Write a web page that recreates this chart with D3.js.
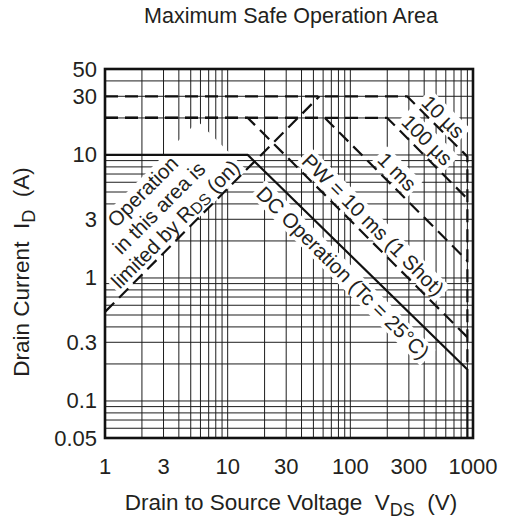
<!DOCTYPE html>
<html>
<head>
<meta charset="utf-8">
<script src="https://cdn.jsdelivr.net/npm/d3@7"></script>
<style>
  body { margin: 0; background: #fff; }
  svg text { font-family: "Liberation Sans", Arial, sans-serif; fill: #231f20; white-space: pre; }
</style>
</head>
<body>
<div id="soaNode"></div>
<script>
// curves (V in volts, I in amps)
var dcVoltage = [1, 14.6, 900, 900];
var dcCurrent = [10, 10, 0.18, 0.05];

var rdsVoltage = [1, 56];
var rdsCurrent = [0.53, 30];

var pw10usVoltage = [1, 290, 900, 900];
var pw10usCurrent = [30, 30, 9.7, 0.18];

var pw100usVoltage = [1, 200, 900];
var pw100usCurrent = [20, 20, 4.4];

var pw1msVoltage = [1, 62, 900];
var pw1msCurrent = [20, 20, 1.38];

var pw10msVoltage = [1, 14.6, 900];
var pw10msCurrent = [20, 20, 0.33];

var xTickLabels = [1, 3, 10, 30, 100, 300, 1000];
var yTickLabels = [0.05, 0.1, 0.3, 1, 3, 10, 30, 50];

var labelTexts = [
    ["Operation", "in this area is", "limited by R|DS| (on)"],
    ["DC Operation (Tc = 25°C)"],
    ["PW = 10 ms (1 Shot)"],
    ["1 ms"],
    ["100 µs"],
    ["10 µs"]
];

// set the dimensions and margins of the graph
var margin = {top: 69, right: 33, bottom: 87, left: 105},
    width = 506 - margin.left - margin.right,
    height = 525 - margin.top - margin.bottom;

var root = d3.select("#soaNode").append("svg")
    .attr("width", 506)
    .attr("height", 525);

var svg = root.append("g")
    .attr("transform", "translate(" + margin.left + "," + margin.top + ")");

var x = d3.scaleLog().domain([1, 1000]).range([0, width]);
var y = d3.scaleLog().domain([0.05, 50]).range([height, 0]);

// log grid, skipping the frame edges
var gridLayer = svg.append("g");
var inner = function(scale) {
    var dom = scale.domain();
    return scale.ticks().filter(function(d) { return d > dom[0] * 1.001 && d < dom[1] * 0.999; });
};
gridLayer.selectAll(".vgrid")
    .data(inner(x))
    .enter().append("line")
    .attr("x1", function(d) { return x(d); })
    .attr("x2", function(d) { return x(d); })
    .attr("y1", 0)
    .attr("y2", height)
    .style("stroke", "#1e1e1e")
    .style("stroke-width", 1);
gridLayer.selectAll(".hgrid")
    .data(inner(y))
    .enter().append("line")
    .attr("y1", function(d) { return y(d); })
    .attr("y2", function(d) { return y(d); })
    .attr("x1", 0)
    .attr("x2", width)
    .style("stroke", "#1e1e1e")
    .style("stroke-width", 1);

var bgLayer = svg.append("g");
var lineLayer = svg.append("g");
var labelLayer = svg.append("g");

var line = d3.line()
    .x(function(d) { return x(d[0]); })
    .y(function(d) { return y(d[1]); });

function curve(vs, is, dashed) {
    lineLayer.append("path")
        .datum(d3.zip(vs, is))
        .attr("d", line)
        .style("fill", "none")
        .style("stroke", "#111")
        .style("stroke-width", 2.2)
        .style("stroke-linejoin", "round")
        .style("stroke-dasharray", dashed ? "13,7" : null);
}

curve(pw10msVoltage, pw10msCurrent, true);
curve(pw1msVoltage, pw1msCurrent, true);
curve(pw100usVoltage, pw100usCurrent, true);
curve(pw10usVoltage, pw10usCurrent, true);
curve(rdsVoltage, rdsCurrent, true);
curve(dcVoltage, dcCurrent, false);

// label anchors (V, I) and rotation
var labelPlaces = [
    {v: 2.76, i: 3.71, angle: -45},
    {v: 87, i: 1.1, angle: 45},
    {v: 153, i: 2.7, angle: 45},
    {v: 240, i: 7.3, angle: 45},
    {v: 422, i: 13.2, angle: 45},
    {v: 569, i: 20.4, angle: 45}
];

labelTexts.forEach(function(lines, k) {
    var p = labelPlaces[k];
    var tr = "translate(" + x(p.v) + "," + y(p.i) + ") rotate(" + p.angle + ")";
    var g = labelLayer.append("g").attr("transform", tr);
    var lh = 23;
    lines.forEach(function(txt, j) {
        var t = g.append("text")
            .attr("text-anchor", "middle")
            .attr("y", (j - (lines.length - 1) / 2) * lh + 7)
            .style("font-size", "20.5px");
        var parts = txt.split("|");
        parts.forEach(function(part, n) {
            var ts = t.append("tspan").text(part);
            if (n == 1) ts.style("font-size", "16px").attr("dy", 2);
            if (n == 2) ts.attr("dy", -2);
        });
    });
    var b = g.node().getBBox();
    bgLayer.append("rect")
        .attr("transform", tr)
        .attr("x", b.x - 3)
        .attr("y", b.y + 1)
        .attr("width", b.width + 6)
        .attr("height", b.height - 1)
        .style("fill", "white");
});

// frame
svg.append("rect")
    .attr("width", width)
    .attr("height", height)
    .style("fill", "none")
    .style("stroke", "#111")
    .style("stroke-width", 2.6);

// tick labels
svg.selectAll(".xlab")
    .data(xTickLabels)
    .enter().append("text")
    .attr("x", function(d) { return x(d); })
    .attr("y", height + 36)
    .attr("text-anchor", "middle")
    .style("font-size", "22px")
    .text(function(d) { return d; });

svg.selectAll(".ylab")
    .data(yTickLabels)
    .enter().append("text")
    .attr("x", -8)
    .attr("y", function(d) { return y(d) + 7.5; })
    .attr("text-anchor", "end")
    .style("font-size", "22px")
    .text(function(d) { return d; });

// titles
root.append("text")
    .attr("x", 291)
    .attr("y", 23)
    .attr("text-anchor", "middle")
    .style("font-size", "21.5px")
    .text("Maximum Safe Operation Area");

var xt = root.append("text")
    .attr("x", 291)
    .attr("y", 510)
    .attr("text-anchor", "middle")
    .style("font-size", "22.5px");
xt.append("tspan").text("Drain to Source Voltage  V");
xt.append("tspan").text("DS").style("font-size", "18px").attr("dy", 6);
xt.append("tspan").text("  (V)").attr("dy", -6);

var yt = root.append("text")
    .attr("transform", "translate(29," + 272 + ") rotate(-90)")
    .attr("text-anchor", "middle")
    .style("font-size", "22.5px");
yt.append("tspan").text("Drain Current  I");
yt.append("tspan").text("D").style("font-size", "18px").attr("dy", 6);
yt.append("tspan").text("  (A)").attr("dy", -6);
</script>
</body>
</html>
